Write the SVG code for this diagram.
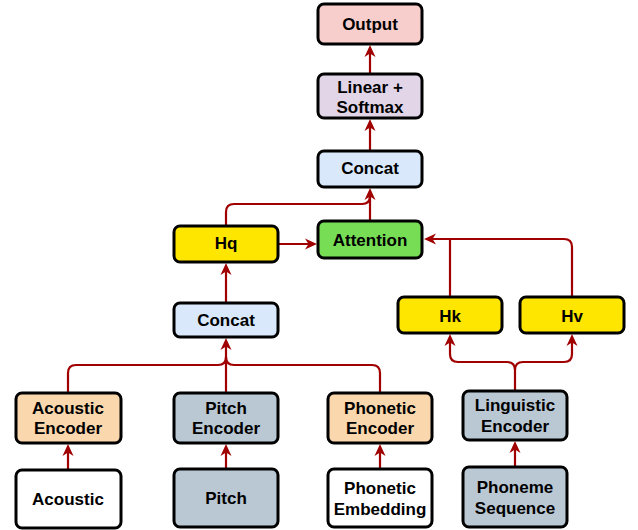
<svg xmlns="http://www.w3.org/2000/svg" width="638" height="530" viewBox="0 0 638 530">
<style>
.box{stroke:#000;stroke-width:3}
.t{font-family:"Liberation Sans",Arial,sans-serif;font-weight:bold;font-size:17px;fill:#000;text-anchor:middle}
.c{fill:none;stroke:#a00000;stroke-width:2.2}
</style>
<defs>
<marker id="ah" markerUnits="userSpaceOnUse" markerWidth="12" markerHeight="12" refX="8" refY="5.5" orient="auto" viewBox="0 0 12 11">
<path d="M0,0 L12,5.5 L0,11 L3.5,5.5 Z" fill="#a00000"/>
</marker>
</defs>
<rect width="638" height="530" fill="#fff"/>
<g id="connectors">
<path class="c" d="M370 74 V49" marker-end="url(#ah)"/>
<path class="c" d="M370 151 V123" marker-end="url(#ah)"/>
<path class="c" d="M370 221 V192" marker-end="url(#ah)"/>
<path class="c" d="M226 226 V212 Q226 204 234 204 H362 Q370 204 370 196"/>
<path class="c" d="M279 244 H313" marker-end="url(#ah)"/>
<path class="c" d="M572 297 V247 Q572 239 564 239 H428" marker-end="url(#ah)"/>
<path class="c" d="M450 297 V239"/>
<path class="c" d="M226 303 V267" marker-end="url(#ah)"/>
<path class="c" d="M515 391 V370 Q515 362 507 362 H458 Q450 362 450 354 V338" marker-end="url(#ah)"/>
<path class="c" d="M515 370 Q515 362 523 362 H564 Q572 362 572 354 V338" marker-end="url(#ah)"/>
<path class="c" d="M68 393 V373 Q68 365 76 365 H218 Q226 365 226 357"/>
<path class="c" d="M380 393 V373 Q380 365 372 365 H234 Q226 365 226 357"/>
<path class="c" d="M226 393 V342" marker-end="url(#ah)"/>
<path class="c" d="M68 470 V448" marker-end="url(#ah)"/>
<path class="c" d="M226 469 V448" marker-end="url(#ah)"/>
<path class="c" d="M380 469 V448" marker-end="url(#ah)"/>
<path class="c" d="M515 467 V445" marker-end="url(#ah)"/>
</g>
<g id="output"><rect class="box" x="318" y="4" width="104" height="40" rx="6" fill="#f8cecc"/><text class="t" x="370" y="30">Output</text></g>
<g id="linear"><rect class="box" x="318" y="74" width="104" height="44" rx="6" fill="#e1d5e7"/><text class="t" x="370" y="93">Linear +</text><text class="t" x="370" y="113">Softmax</text></g>
<g id="concat-top"><rect class="box" x="318" y="151" width="104" height="36" rx="6" fill="#dae8fc"/><text class="t" x="370" y="174">Concat</text></g>
<g id="hq"><rect class="box" x="174" y="226" width="104" height="36" rx="6" fill="#ffe600"/><text class="t" x="226" y="249">Hq</text></g>
<g id="attention"><rect class="box" x="318" y="221" width="104" height="37" rx="6" fill="#77dd55"/><text class="t" x="370" y="246">Attention</text></g>
<g id="concat-low"><rect class="box" x="174" y="303" width="104" height="34" rx="6" fill="#dae8fc"/><text class="t" x="226" y="326">Concat</text></g>
<g id="hk"><rect class="box" x="398" y="297" width="104" height="36" rx="6" fill="#ffe600"/><text class="t" x="450" y="322">Hk</text></g>
<g id="hv"><rect class="box" x="520" y="297" width="104" height="36" rx="6" fill="#ffe600"/><text class="t" x="572" y="322">Hv</text></g>
<g id="acoustic-encoder"><rect class="box" x="16" y="393" width="105" height="50" rx="6" fill="#fad7ac"/><text class="t" x="68" y="414">Acoustic</text><text class="t" x="68" y="434">Encoder</text></g>
<g id="pitch-encoder"><rect class="box" x="174" y="393" width="104" height="50" rx="6" fill="#bac8d3"/><text class="t" x="226" y="414">Pitch</text><text class="t" x="226" y="434">Encoder</text></g>
<g id="phonetic-encoder"><rect class="box" x="328" y="393" width="104" height="50" rx="6" fill="#fad7ac"/><text class="t" x="380" y="414">Phonetic</text><text class="t" x="380" y="434">Encoder</text></g>
<g id="linguistic-encoder"><rect class="box" x="463" y="391" width="104" height="49" rx="6" fill="#bac8d3"/><text class="t" x="515" y="411">Linguistic</text><text class="t" x="515" y="432">Encoder</text></g>
<g id="acoustic"><rect class="box" x="16" y="470" width="105" height="58" rx="6" fill="#fff"/><text class="t" x="68" y="505">Acoustic</text></g>
<g id="pitch"><rect class="box" x="174" y="469" width="104" height="58" rx="6" fill="#bac8d3"/><text class="t" x="226" y="504">Pitch</text></g>
<g id="phonetic-embedding"><rect class="box" x="328" y="469" width="104" height="58" rx="6" fill="#fff"/><text class="t" x="380" y="494">Phonetic</text><text class="t" x="380" y="515">Embedding</text></g>
<g id="phoneme-sequence"><rect class="box" x="463" y="467" width="104" height="60" rx="6" fill="#bac8d3"/><text class="t" x="515" y="493">Phoneme</text><text class="t" x="515" y="514">Sequence</text></g>
</svg>
